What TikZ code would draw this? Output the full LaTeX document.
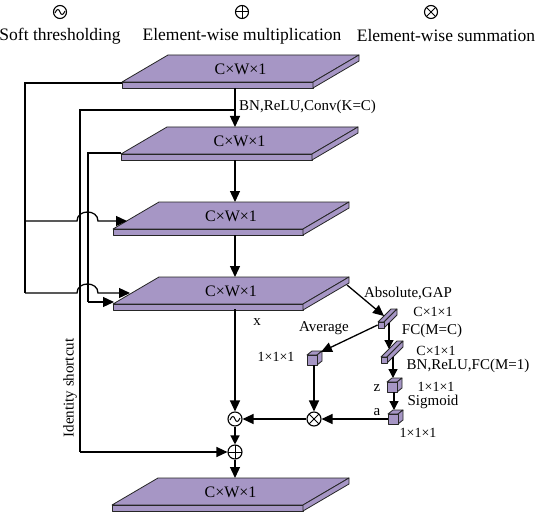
\documentclass[tikz,border=0pt]{standalone}
\usepackage{fontspec}
\setmainfont{Liberation Serif}
\usetikzlibrary{arrows.meta,calc}
\definecolor{slabc}{RGB}{166,150,197}
\tikzset{
  ln/.style={line width=1.3pt},
  arr/.style={ln,-{Triangle[length=11pt,width=10pt]}},
  sarr/.style={ln,-{Triangle[length=9pt,width=9pt]}},
  face/.style={fill=slabc,draw=black!85,line width=0.8pt,line join=round},
  lbl/.style={font=\fontsize{15}{18}\selectfont,inner sep=0pt},
  slbl/.style={font=\fontsize{14}{17}\selectfont,inner sep=0pt},
  slablbl/.style={font=\fontsize{16}{19}\selectfont,inner sep=0pt},
  legend/.style={font=\fontsize{17.5}{20}\selectfont,inner sep=0pt},
  opc/.style={circle,draw,line width=1.1pt,minimum size=14pt,inner sep=0pt},
  softc/.style={opc,path picture={\draw[line width=1pt,shift={(path picture bounding box.center)}] (-5,1) .. controls (-3,-4) and (-1,-3) .. (0,0) .. controls (1,3) and (3,4) .. (5,-1);}},
  plusc/.style={opc,path picture={\draw[line width=1pt,shift={(path picture bounding box.center)}] (-8,0) -- (8,0) (0,-8) -- (0,8);}},
  timesc/.style={opc,path picture={\draw[line width=1pt,shift={(path picture bounding box.center)}] (-6,-6) -- (6,6) (-6,6) -- (6,-6);}},
}
\newcommand\myslab[5]{%
  \path[face] ({#2+46},#4) -- ({#3+46},#4) -- (#3,{#4+27}) -- (#2,{#4+27}) -- cycle;
  \path[face] (#2,{#4+27}) rectangle (#3,{#4+33});
  \path[face] (#3,{#4+27}) -- ({#3+46},#4) -- ({#3+46},{#4+6}) -- (#3,{#4+33}) -- cycle;
  \node[slablbl] (#1) at ({(#2+#3)/2+23},{#4+14}) {C×W×1};
}
\newcommand\myrod[4]{%
  \path[face] ({#2-3},{#3-3}) -- ({#2+3},{#3-3}) -- ({#2+3+#4},{#3-3-#4}) -- ({#2-3+#4},{#3-3-#4}) -- cycle;
  \path[face] ({#2+3},{#3-3}) -- ({#2+3+#4},{#3-3-#4}) -- ({#2+3+#4},{#3+3-#4}) -- ({#2+3},{#3+3}) -- cycle;
  \node[face,minimum size=6pt,inner sep=0pt] (#1) at (#2,#3) {};
}
\newcommand\mycube[3]{%
  \path[face] ({#2-5},{#3-5}) -- ({#2+5},{#3-5}) -- ({#2+10},{#3-9}) -- ({#2},{#3-9}) -- cycle;
  \path[face] ({#2+5},{#3-5}) -- ({#2+10},{#3-9}) -- ({#2+10},{#3+1}) -- ({#2+5},{#3+5}) -- cycle;
  \node[face,minimum size=10pt,inner sep=0pt] (#1) at (#2,#3) {};
}
\begin{document}
\begin{tikzpicture}[x=1pt,y=-1pt]
\useasboundingbox[fill=white] (0,0) rectangle (543,516);
% legend
\node[softc,minimum size=13pt] (lg1) at (60,12) {};
\node[plusc,minimum size=13pt] (lg2) at (242,12) {};
\node[timesc,minimum size=13pt] (lg3) at (431,12) {};
\node[legend] (lt1) at (60,36) {Soft thresholding};
\node[legend] (lt2) at (242,36) {Element-wise multiplication};
\node[legend] (lt3) at (446,36) {Element-wise summation};
% slabs
\myslab{s1}{122}{313}{55}{}
\myslab{s2}{121}{312}{127}{}
\myslab{s3}{113}{303}{202}{}
\myslab{s4}{113}{303}{277}{}
\myslab{s5}{112}{303}{478}{}
% coordinates
\coordinate (s1bot) at (235,88);
\coordinate (s2top) at (235,127);
\coordinate (s2bot) at (235,160);
\coordinate (s3top) at (235,202);
\coordinate (s3bot) at (235,235);
\coordinate (s4top) at (235,277);
\coordinate (s4bot) at (235,309);
\coordinate (s5top) at (235,478);
\coordinate (b1) at (235,110);
\coordinate (s1fl) at (122,83);
\coordinate (s2fl) at (121,153);
\coordinate (s3in) at (127,221);
\coordinate (s4inA) at (130,293);
\coordinate (s4inB) at (114,302);
\coordinate (s4side) at (347,285);
\coordinate (cA1) at (25,83);
\coordinate (cA2) at (25,293);
\coordinate (cB1) at (80,110);
\coordinate (cB2) at (80,452);
\coordinate (cC1) at (88,153);
\coordinate (cC2) at (88,302);
% operators
\node[softc] (soft) at (235,419) {};
\node[plusc] (plus) at (235,452) {};
\node[timesc] (ot) at (314,419) {};
% rods and cubes
\myrod{r1}{381}{325}{13}
\myrod{r2}{384}{360}{16}
\mycube{avg}{312}{360}
\mycube{cz}{392}{387}
\mycube{ca}{393}{419}
\coordinate (r1tip) at (384,316);
\coordinate (r1bot) at (389,323);
\coordinate (r2tip) at (389,349);
\coordinate (r2bot) at (393,357);
\coordinate (cztop) at (393,378);
\coordinate (czbot) at (394,392);
\coordinate (catop) at (394,410);
\coordinate (avgtip) at (321,352);
% main column
\draw[arr] (s1bot) -- (s2top);
\draw[arr] (s2bot) -- (s3top);
\draw[arr] (s3bot) -- (s4top);
\draw[arr] (s4bot) -- (soft.north);
\draw[sarr] (soft.south) -- (plus.north);
\draw[arr] (plus.south) -- (s5top);
% left routing
\draw[ln] (s1fl) -- (cA1) -- (cA2);
\draw[arr] (cA1 |- s3in) -- (77,221) .. controls (77,209) and (98,209) .. (98,221) -- (s3in);
\draw[arr] (cA2) -- (77,293) .. controls (77,281) and (98,281) .. (98,293) -- (s4inA);
\draw[ln] (b1) -- (cB1) -- (cB2);
\draw[arr] (cB2) -- (plus.west);
\draw[ln] (s2fl) -- (cC1) -- (cC2);
\draw[arr] (cC2) -- (s4inB);
% right branch
\draw[arr] (s4side) -- (r1tip);
\draw[arr] (r1.west) -- (avgtip);
\draw[sarr] (r1bot) -- (r2tip);
\draw[sarr] (r2bot) -- (cztop);
\draw[sarr] (czbot) -- (catop);
\draw[arr] (ca.west) -- (ot.east);
\draw[arr] (avg.south -| ot.north) -- (ot.north);
\draw[arr] (ot.west) -- (soft.east);
% labels
\node[lbl,anchor=west] (lconv) at (239,107) {BN,ReLU,Conv(K=C)};
\node[lbl,rotate=90] (lid) at (70,388) {Identity shortcut};
\node[lbl] (lx) at (257,322) {x};
\node[lbl] (labs) at (408,293) {Absolute,GAP};
\node[slbl] (lc1) at (433,312) {C×1×1};
\node[lbl] (lfc1) at (432,331) {FC(M=C)};
\node[slbl] (lc2) at (436,351) {C×1×1};
\node[lbl] (lfc2) at (468,366) {BN,ReLU,FC(M=1)};
\node[slbl] (l111a) at (436,387) {1×1×1};
\node[lbl] (lsig) at (433,402) {Sigmoid};
\node[slbl] (l111b) at (418,433) {1×1×1};
\node[lbl] (lz) at (377,388) {z};
\node[lbl] (la) at (377,412) {a};
\node[lbl] (lavg) at (324,328) {Average};
\node[slbl] (l111c) at (276,357) {1×1×1};
\end{tikzpicture}
\end{document}
